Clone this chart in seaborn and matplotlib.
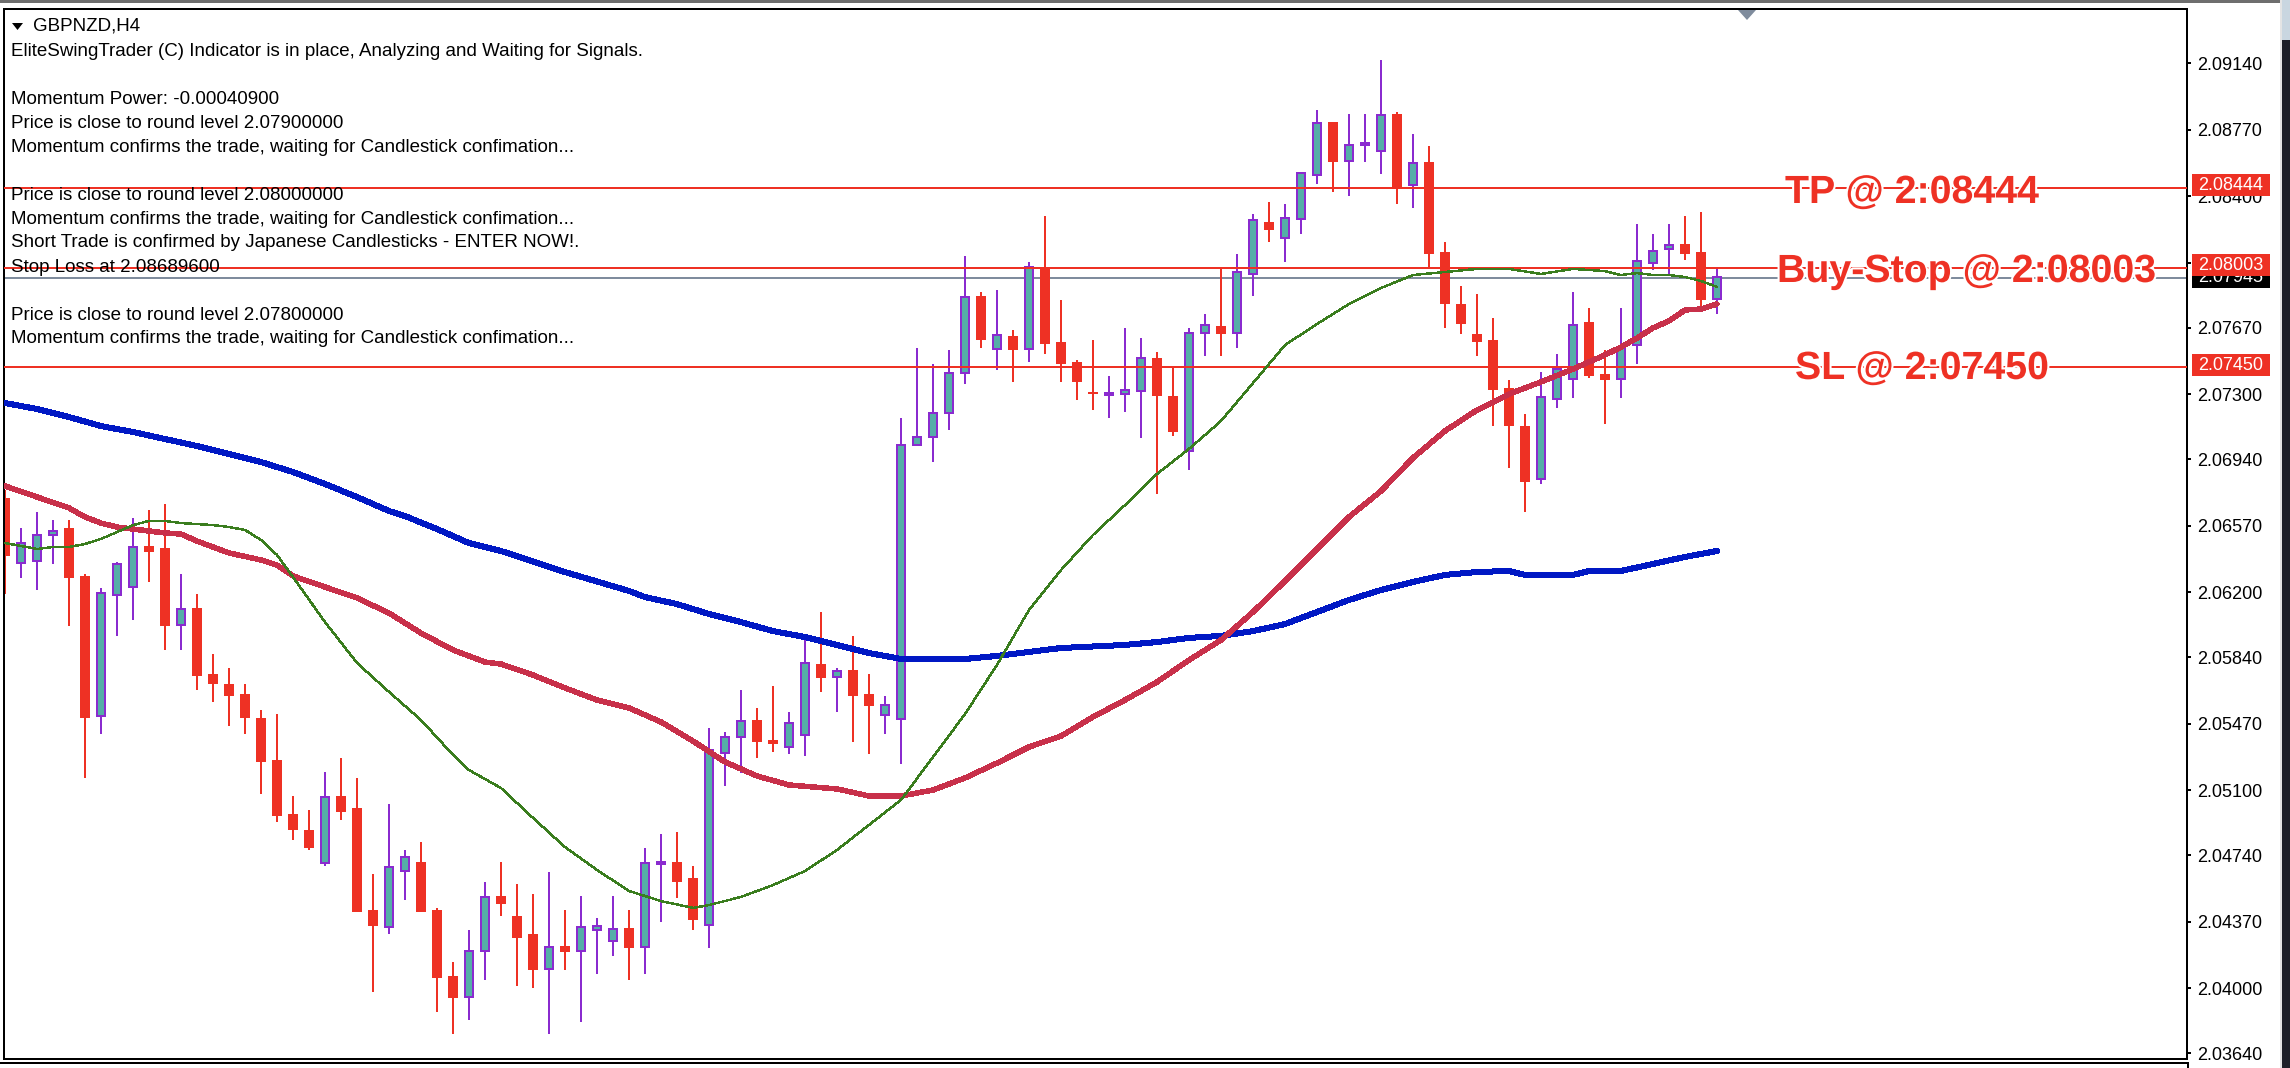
"""
GBPNZD H4 candlestick chart with moving averages and trade levels.
"""

import matplotlib
matplotlib.use('Agg')
import matplotlib.pyplot as plt
import matplotlib.patheffects as pe
from matplotlib.patches import Polygon, Rectangle
import numpy as np
import pandas as pd
import seaborn as sns

# candles, one entry per bar
candle_open = [
    2.06723, 2.06362, 2.06373, 2.06518, 2.06557, 2.06290, 2.05512, 2.06184, 2.06229, 2.06457,
    2.06446, 2.06018, 2.06112, 2.05746, 2.05690, 2.05634, 2.05501, 2.05268, 2.04968, 2.04879,
    2.04696, 2.05068, 2.05001, 2.04434, 2.04340, 2.04651, 2.04701, 2.04434, 2.04068, 2.03951,
    2.04207, 2.04512, 2.04401, 2.04301, 2.04107, 2.04234, 2.04207, 2.04323, 2.04262, 2.04334,
    2.04229, 2.04690, 2.04701, 2.04612, 2.04351, 2.05307, 2.05396, 2.05490, 2.05379, 2.05340,
    2.05407, 2.05801, 2.05729, 2.05768, 2.05634, 2.05518, 2.05496, 2.07018, 2.07062, 2.07196,
    2.07418, 2.07846, 2.07551, 2.07623, 2.07551, 2.08007, 2.07590, 2.07479, 2.07312, 2.07296,
    2.07301, 2.07318, 2.07501, 2.07290, 2.06984, 2.07640, 2.07679, 2.07640, 2.07968, 2.08257,
    2.08168, 2.08273, 2.08518, 2.08812, 2.08596, 2.08684, 2.08651, 2.08857, 2.08462, 2.08590,
    2.08090, 2.07801, 2.07634, 2.07601, 2.07334, 2.07123, 2.06829, 2.07273, 2.07384, 2.07701,
    2.07412, 2.07384, 2.07573, 2.08029, 2.08107, 2.08134, 2.08090, 2.07829,
]
candle_close = [
    2.06401, 2.06473, 2.06518, 2.06540, 2.06279, 2.05501, 2.06196, 2.06357, 2.06451, 2.06423,
    2.06012, 2.06107, 2.05734, 2.05690, 2.05623, 2.05501, 2.05257, 2.04957, 2.04879, 2.04779,
    2.05062, 2.04979, 2.04423, 2.04346, 2.04673, 2.04729, 2.04423, 2.04057, 2.03946, 2.04207,
    2.04507, 2.04468, 2.04279, 2.04101, 2.04229, 2.04201, 2.04340, 2.04346, 2.04329, 2.04223,
    2.04696, 2.04701, 2.04590, 2.04379, 2.05323, 2.05396, 2.05484, 2.05368, 2.05357, 2.05473,
    2.05807, 2.05723, 2.05762, 2.05623, 2.05568, 2.05573, 2.07018, 2.07062, 2.07196, 2.07418,
    2.07840, 2.07601, 2.07629, 2.07546, 2.08007, 2.07579, 2.07468, 2.07368, 2.07301, 2.07307,
    2.07323, 2.07501, 2.07290, 2.07090, 2.07640, 2.07684, 2.07634, 2.07979, 2.08268, 2.08212,
    2.08279, 2.08529, 2.08807, 2.08590, 2.08684, 2.08696, 2.08851, 2.08451, 2.08584, 2.08079,
    2.07801, 2.07690, 2.07590, 2.07323, 2.07123, 2.06812, 2.07284, 2.07440, 2.07684, 2.07401,
    2.07379, 2.07562, 2.08040, 2.08096, 2.08129, 2.08079, 2.07823, 2.07951,
]
candle_high = [
    2.06768, 2.06557, 2.06646, 2.06601, 2.06601, 2.06301, 2.06223, 2.06368, 2.06612, 2.06657,
    2.06690, 2.06301, 2.06190, 2.05857, 2.05779, 2.05690, 2.05546, 2.05523, 2.05068, 2.04990,
    2.05201, 2.05279, 2.05168, 2.04634, 2.05023, 2.04768, 2.04812, 2.04446, 2.04146, 2.04323,
    2.04590, 2.04701, 2.04579, 2.04523, 2.04646, 2.04434, 2.04512, 2.04390, 2.04512, 2.04434,
    2.04779, 2.04857, 2.04868, 2.04679, 2.05446, 2.05423, 2.05657, 2.05557, 2.05679, 2.05534,
    2.05946, 2.06090, 2.05779, 2.05957, 2.05746, 2.05623, 2.07168, 2.07557, 2.07468, 2.07546,
    2.08068, 2.07868, 2.07879, 2.07657, 2.08034, 2.08290, 2.07823, 2.07490, 2.07601, 2.07401,
    2.07668, 2.07612, 2.07534, 2.07451, 2.07668, 2.07746, 2.08007, 2.08079, 2.08301, 2.08368,
    2.08357, 2.08534, 2.08879, 2.08812, 2.08857, 2.08857, 2.09157, 2.08868, 2.08746, 2.08679,
    2.08146, 2.07901, 2.07857, 2.07723, 2.07379, 2.07190, 2.07423, 2.07523, 2.07868, 2.07779,
    2.07546, 2.07779, 2.08246, 2.08190, 2.08246, 2.08290, 2.08312, 2.08001,
]
candle_low = [
    2.06190, 2.06279, 2.06212, 2.06357, 2.06012, 2.05168, 2.05412, 2.05957, 2.06046, 2.06257,
    2.05879, 2.05879, 2.05657, 2.05590, 2.05457, 2.05412, 2.05079, 2.04923, 2.04823, 2.04768,
    2.04679, 2.04934, 2.04423, 2.03979, 2.04301, 2.04490, 2.04423, 2.03868, 2.03746, 2.03823,
    2.04046, 2.04401, 2.04012, 2.04001, 2.03746, 2.04101, 2.03812, 2.04079, 2.04179, 2.04046,
    2.04079, 2.04368, 2.04501, 2.04323, 2.04223, 2.05123, 2.05196, 2.05279, 2.05312, 2.05301,
    2.05290, 2.05646, 2.05534, 2.05368, 2.05301, 2.05412, 2.05246, 2.07018, 2.06923, 2.07101,
    2.07357, 2.07557, 2.07434, 2.07368, 2.07479, 2.07523, 2.07368, 2.07268, 2.07212, 2.07168,
    2.07201, 2.07057, 2.06746, 2.07068, 2.06879, 2.07512, 2.07512, 2.07557, 2.07846, 2.08146,
    2.08034, 2.08190, 2.08468, 2.08423, 2.08401, 2.08590, 2.08523, 2.08357, 2.08334, 2.08007,
    2.07668, 2.07634, 2.07512, 2.07123, 2.06890, 2.06646, 2.06801, 2.07223, 2.07279, 2.07390,
    2.07134, 2.07279, 2.07468, 2.07990, 2.07962, 2.08046, 2.07768, 2.07746,
]

blue_bars = [0, 2, 4, 6, 8, 10, 12, 14, 16, 18, 20, 22, 24, 25, 27, 29, 31, 35, 39, 40, 42, 44,
             46, 48, 50, 52, 54, 55, 56, 60, 62, 66, 70, 72, 74, 76, 78, 80, 82, 84, 86, 88, 90,
             92, 94, 95, 98, 99, 101, 103, 105, 107]
blue_ma = [2.07251, 2.07218, 2.07173, 2.07123, 2.07090, 2.07051, 2.07012, 2.06968, 2.06923,
           2.06868, 2.06801, 2.06729, 2.06651, 2.06623, 2.06551, 2.06473, 2.06429, 2.06312,
           2.06207, 2.06173, 2.06134, 2.06079, 2.06034, 2.05984, 2.05951, 2.05907, 2.05862,
           2.05846, 2.05829, 2.05829, 2.05846, 2.05890, 2.05907, 2.05923, 2.05946, 2.05957,
           2.05984, 2.06023, 2.06090, 2.06157, 2.06212, 2.06257, 2.06296, 2.06312, 2.06318,
           2.06296, 2.06296, 2.06318, 2.06318, 2.06357, 2.06396, 2.06429]

red_bars = [0, 2, 4, 5, 6, 7, 8, 10, 11, 12, 14, 16, 17, 18, 20, 22, 24, 26, 28, 30, 31, 33, 35,
            37, 39, 41, 43, 45, 47, 49, 52, 54, 56, 58, 60, 62, 64, 66, 68, 70, 72, 74, 76, 78,
            80, 82, 84, 86, 88, 90, 92, 94, 96, 98, 100, 101, 102, 103, 104, 105, 106, 107]
red_ma = [2.06790, 2.06729, 2.06668, 2.06618, 2.06584, 2.06562, 2.06551, 2.06529, 2.06523,
          2.06484, 2.06418, 2.06379, 2.06351, 2.06290, 2.06229, 2.06168, 2.06084, 2.05973,
          2.05879, 2.05812, 2.05801, 2.05740, 2.05668, 2.05601, 2.05557, 2.05479, 2.05373,
          2.05257, 2.05179, 2.05129, 2.05107, 2.05068, 2.05068, 2.05101, 2.05168, 2.05251,
          2.05340, 2.05401, 2.05507, 2.05601, 2.05701, 2.05823, 2.05934, 2.06090, 2.06262,
          2.06440, 2.06618, 2.06762, 2.06946, 2.07096, 2.07212, 2.07301, 2.07368, 2.07440,
          2.07518, 2.07562, 2.07612, 2.07668, 2.07707, 2.07768, 2.07773, 2.07801]

green_bars = [0, 1, 2, 3, 4, 5, 6, 7, 8, 9, 10, 11, 13, 14, 15, 16, 17, 18, 20, 22, 24, 26, 28,
              29, 31, 33, 35, 37, 39, 41, 43, 44, 46, 48, 50, 52, 54, 56, 58, 60, 62, 64, 66, 68,
              70, 72, 74, 76, 78, 80, 82, 84, 86, 88, 90, 92, 94, 96, 98, 100, 101, 102, 103,
              104, 105, 106, 107]
green_ma = [2.06473, 2.06457, 2.06440, 2.06451, 2.06451, 2.06468, 2.06496, 2.06534, 2.06573,
            2.06596, 2.06596, 2.06584, 2.06573, 2.06562, 2.06546, 2.06490, 2.06407, 2.06284,
            2.06034, 2.05807, 2.05646, 2.05490, 2.05296, 2.05212, 2.05112, 2.04946, 2.04784,
            2.04657, 2.04540, 2.04484, 2.04446, 2.04462, 2.04507, 2.04573, 2.04651, 2.04768,
            2.04907, 2.05046, 2.05284, 2.05523, 2.05796, 2.06101, 2.06323, 2.06518, 2.06684,
            2.06857, 2.06996, 2.07151, 2.07362, 2.07573, 2.07690, 2.07801, 2.07890, 2.07962,
            2.07979, 2.07996, 2.07996, 2.07968, 2.07996, 2.07984, 2.07962, 2.07973, 2.07962,
            2.07962, 2.07951, 2.07929, 2.07896]

# levels and axis labels
tp_level = 2.08444
buy_level = 2.08003
sl_level = 2.07450
bid_level = 2.07945
price_ticks = [2.09140, 2.08770, 2.08400, 2.08030, 2.07670, 2.07300, 2.06940, 2.06570,
               2.06200, 2.05840, 2.05470, 2.05100, 2.04740, 2.04370, 2.04000, 2.03640]
header = 'GBPNZD,H4'
status_lines = [
    (52, 'EliteSwingTrader (C) Indicator is in place, Analyzing and Waiting for Signals.'),
    (99, 'Momentum Power: -0.00040900'),
    (123, 'Price is close to round level 2.07900000'),
    (147, 'Momentum confirms the trade, waiting for Candlestick confimation...'),
    (195, 'Price is close to round level 2.08000000'),
    (219, 'Momentum confirms the trade, waiting for Candlestick confimation...'),
    (243, 'Short Trade is confirmed by Japanese Candlesticks - ENTER NOW!.'),
    (267, 'Stop Loss at 2.08689600'),
    (315, 'Price is close to round level 2.07800000'),
    (339, 'Momentum confirms the trade, waiting for Candlestick confimation...'),
]

RED = '#EE3124'
TEAL = '#55AEA7'
PURPLE = '#8A2BCF'
BLUE = '#0018C4'
CRIMSON = '#C8304A'
GREEN = '#3A7D1E'
GREY = '#7F8C9D'
W, H = 2290, 1068


def fx(px):
    return px / W


def fy(py):
    return 1 - py / H


def lw(px):
    # line width given in pixels at dpi 100
    return px * 0.72


def fig_box(fig, x0, y0, x1, y1, color, zorder=5):
    fig.add_artist(Rectangle((fx(x0), fy(y1)), (x1 - x0) / W, (y1 - y0) / H,
                             transform=fig.transFigure, facecolor=color,
                             edgecolor='none', zorder=zorder))


sns.set_theme(style='white')
plt.rcParams['font.family'] = ['Liberation Sans', 'DejaVu Sans']

fig = plt.figure(figsize=(W / 100, H / 100), dpi=100, facecolor='white')
ax = fig.add_axes([fx(4), fy(1059), fx(2187 - 4), (1059 - 9) / H])
ax.set_facecolor('white')

df = pd.DataFrame({'open': candle_open, 'close': candle_close,
                   'high': candle_high, 'low': candle_low})
df['bar'] = np.arange(len(df))
up = df[df['close'] >= df['open']]
down = df[df['close'] < df['open']]

ax.axhline(bid_level, color=GREY, lw=lw(2), zorder=1, antialiased=False)

# wicks first, bodies on top
ax.vlines(down['bar'], down['low'], down['high'], color=RED, lw=lw(2), zorder=2, antialiased=False)
ax.vlines(up['bar'], up['low'], up['high'], color=PURPLE, lw=lw(2), zorder=2, antialiased=False)
ax.bar(down['bar'], down['open'] - down['close'], bottom=down['close'], width=10 / 16,
       color=RED, linewidth=0, zorder=2.1, antialiased=False)
ax.bar(up['bar'], up['close'] - up['open'], bottom=up['open'], width=8 / 16,
       color=TEAL, edgecolor=PURPLE, linewidth=lw(2), zorder=2.1, antialiased=False)

for level in [tp_level, buy_level, sl_level]:
    ax.axhline(level, color=RED, lw=lw(2), zorder=3, antialiased=False)

sns.lineplot(x=blue_bars, y=blue_ma, ax=ax, color=BLUE, linewidth=lw(5), estimator=None,
             zorder=4, antialiased=False)
sns.lineplot(x=red_bars, y=red_ma, ax=ax, color=CRIMSON, linewidth=lw(4.5), estimator=None,
             zorder=4.1, antialiased=False)
sns.lineplot(x=green_bars, y=green_ma, ax=ax, color=GREEN, linewidth=lw(1.4), estimator=None,
             zorder=4.2, antialiased=False)

ax.set_xlim((4 - 5) / 16, (2187 - 5) / 16)
ax.set_ylim(2.0914 - 996 / 18000, 2.0914 + 54 / 18000)
ax.set_xticks([])
ax.yaxis.tick_right()
ax.set_yticks(price_ticks)
# 2.08030 sits fully behind the buy-stop tag, so its label is left empty
ax.set_yticklabels(['' if p == 2.08030 else '%.5f' % p for p in price_ticks],
                   fontsize=13, color='black')
ax.tick_params(axis='y', length=lw(4), width=lw(2), color='black', pad=lw(6), right=True)
for side in ax.spines.values():
    side.set_color('black')
    side.set_linewidth(lw(2))

# status text of the indicator
for py, line in status_lines:
    fig.text(fx(11), fy(py), line, fontsize=13.5, color='black', va='center', ha='left', zorder=6)
fig.text(fx(33), fy(26), header, fontsize=13.5, color='black', va='center', ha='left', zorder=6)
fig.add_artist(Polygon([(fx(12), fy(23)), (fx(23), fy(23)), (fx(17.5), fy(30))],
                       transform=fig.transFigure, facecolor='black', edgecolor='none'))
fig.add_artist(Polygon([(fx(1738), fy(10)), (fx(1756), fy(10)), (fx(1747), fy(20))],
                       transform=fig.transFigure, facecolor=GREY, edgecolor='none', zorder=6))

# big trade labels
halo = [pe.withStroke(linewidth=3, foreground='white')]
for px, py, label in [(1785, 203, 'TP @ 2:08444'),
                      (1777, 282, 'Buy-Stop @ 2:08003'),
                      (1795, 379, 'SL @ 2:07450')]:
    fig.text(fx(px), fy(py), label, fontsize=28.3, fontweight='bold', color=RED, va='baseline',
             ha='left', path_effects=halo, zorder=6)

# price tags on the right edge
fig_box(fig, 2192, 266, 2270, 288, 'black', zorder=5)
fig.text(fx(2198), fy(277), '%.5f' % bid_level, fontsize=13, color='white', va='center', zorder=5.1)
for top, level in [(174, tp_level), (254, buy_level), (354, sl_level)]:
    fig_box(fig, 2192, top, 2270, top + 22, RED, zorder=5.2)
    fig.text(fx(2198), fy(top + 11), '%.5f' % level, fontsize=13, color='white', va='center',
             zorder=5.3)

# window frame around the chart
fig_box(fig, 0, 0, W, 3, '#6E6E6E', zorder=7)
fig_box(fig, 0, 1062, 2188, 1064, 'black', zorder=7)
fig_box(fig, 2187, 1062, 2189, 1068, 'black', zorder=7)
fig_box(fig, 2280, 0, 2282, H, '#E4E4E4', zorder=7)
fig_box(fig, 2282, 0, W, 40, '#C9D6E0', zorder=7)
fig_box(fig, 2282, 40, W, H, '#1E2028', zorder=7)

fig.savefig('out.png', dpi=100)
